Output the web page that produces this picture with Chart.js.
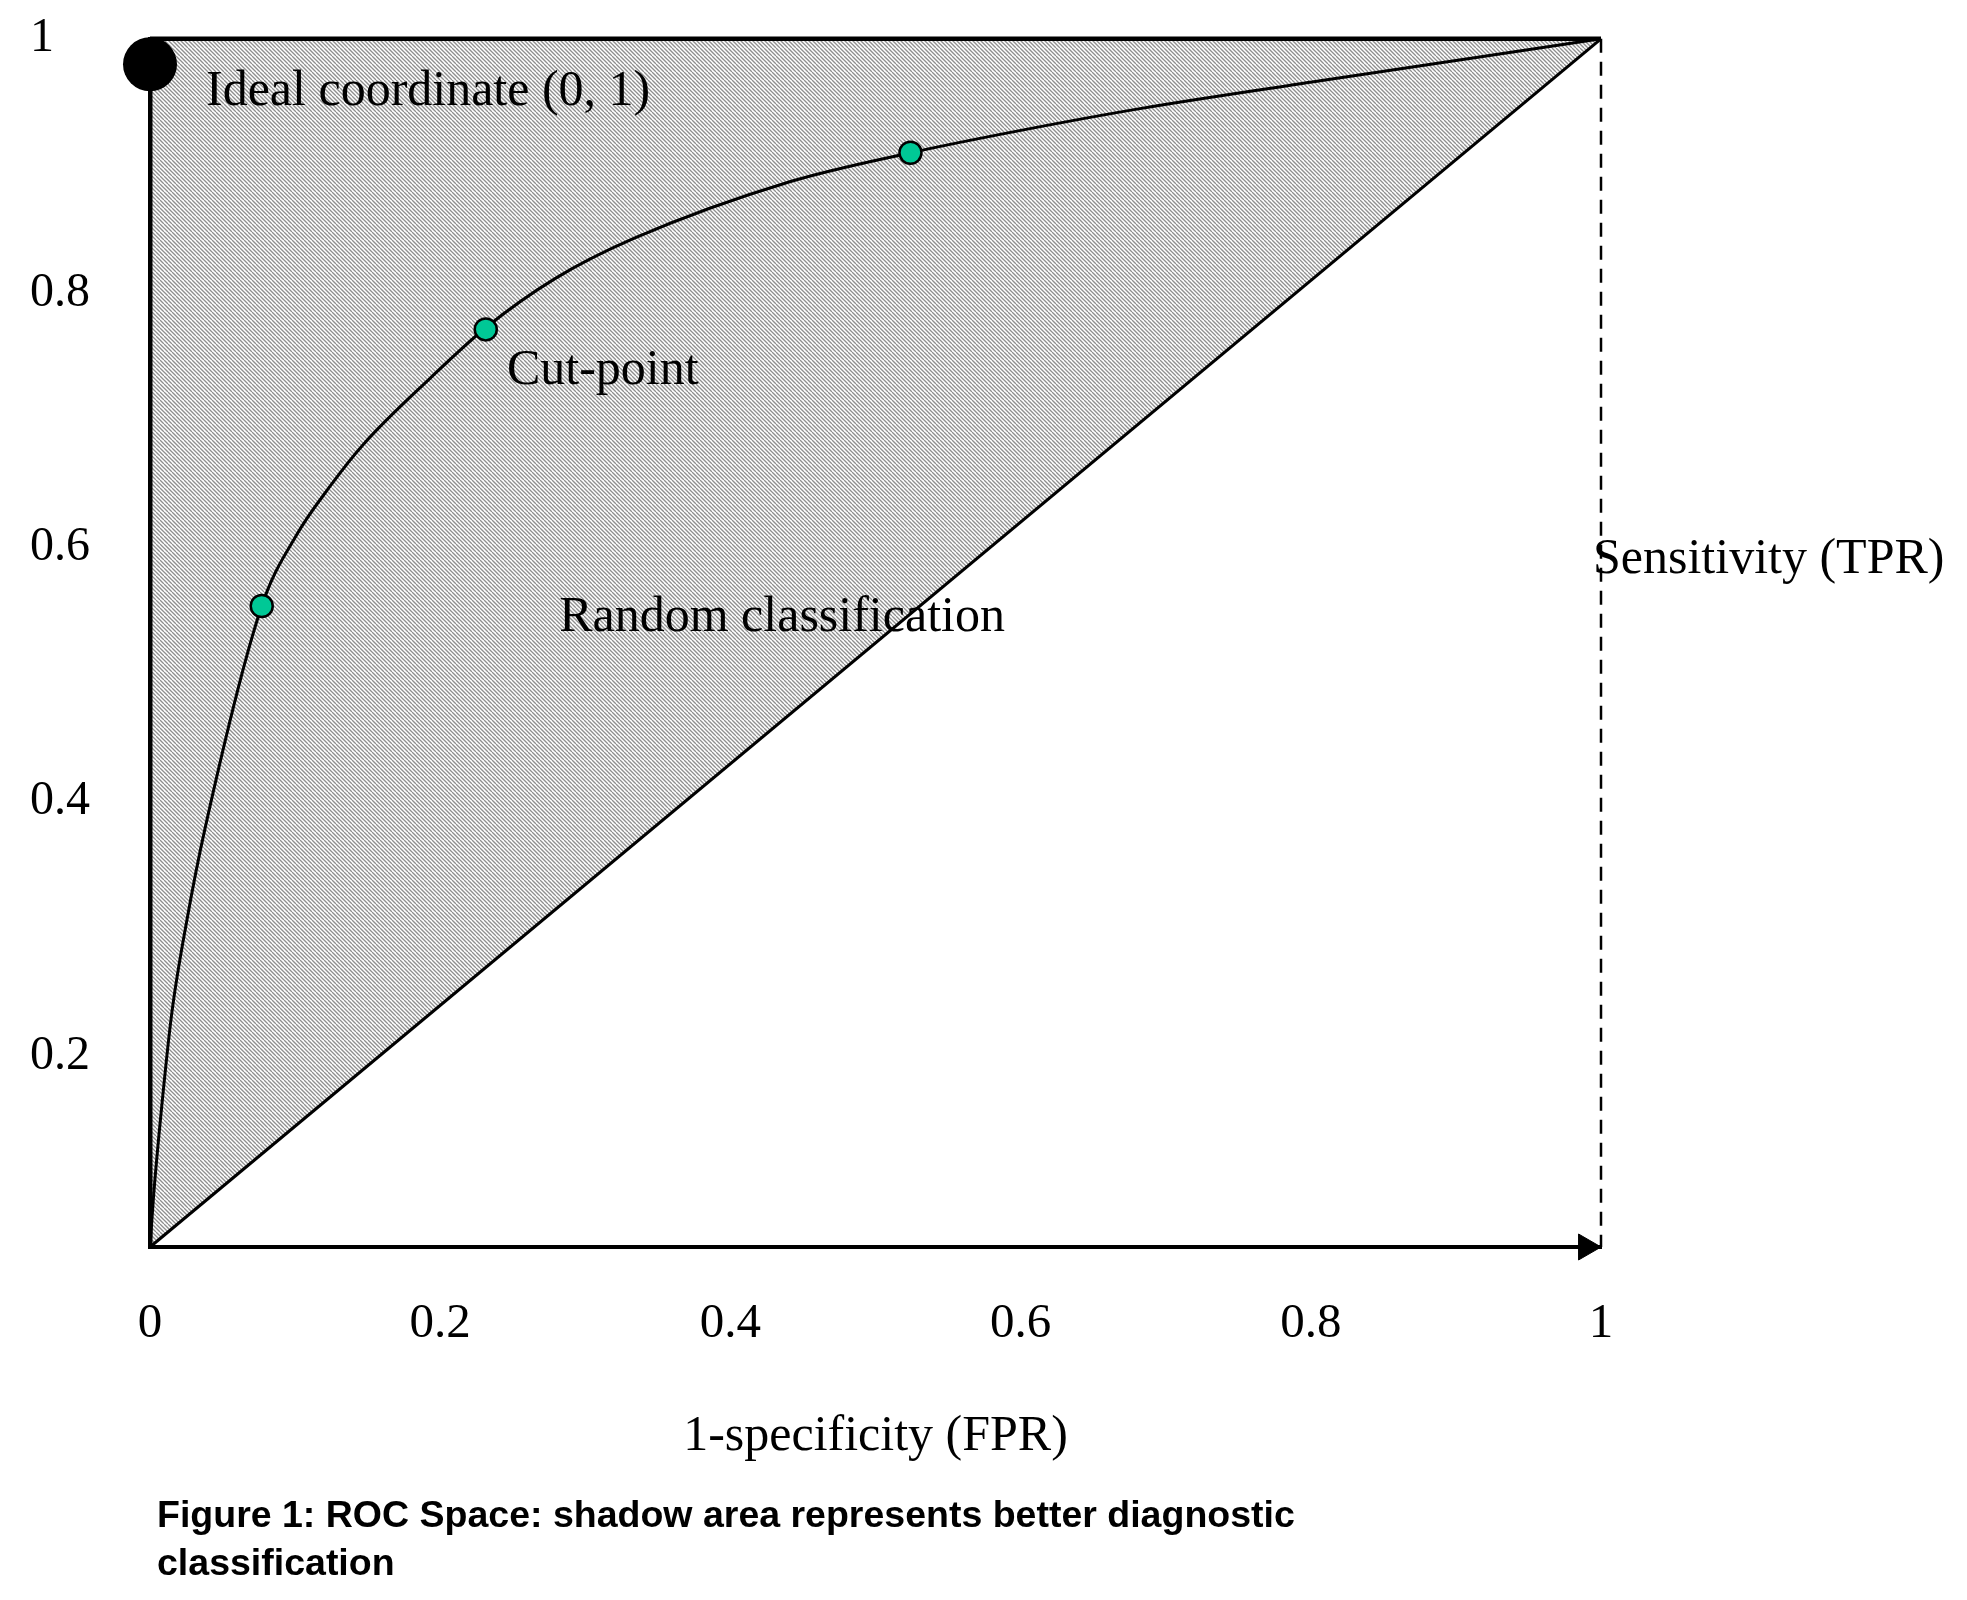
<!DOCTYPE html>
<html>
<head>
<meta charset="utf-8">
<script src="https://cdn.jsdelivr.net/npm/chart.js@4.4.1/dist/chart.umd.min.js"></script>
<style>
  html, body { margin: 0; padding: 0; background: #fff; }
  #wrap { position: relative; width: 1967px; height: 1600px; }
  #c { position: absolute; left: 0; top: 0; }
  #caption { position: absolute; left: 157px; top: 1490px; font-family: "Liberation Sans", Arial, sans-serif;
    font-weight: bold; font-size: 37.5px; line-height: 48px; color: #000; white-space: nowrap; }
</style>
</head>
<body>
<div id="wrap">
  <canvas id="c" width="1967" height="1600"></canvas>
  <div id="caption">Figure 1: ROC Space: shadow area represents better diagnostic<br>classification</div>
</div>
<script>
// ---- data ----
const xTicks = [0, 0.2, 0.4, 0.6, 0.8, 1];
const xTickLabels = ["0", "0.2", "0.4", "0.6", "0.8", "1"];
const yTicks = [0.2, 0.4, 0.6, 0.8, 1];
const yTickLabels = ["0.2", "0.4", "0.6", "0.8", "1"];
const xTitle = "1-specificity (FPR)";

// ROC curve traced through the picture
const rocX = [0, 0.0023, 0.0081, 0.015, 0.0253, 0.0379, 0.077, 0.1011, 0.124, 0.147, 0.193, 0.2316, 0.2797, 0.3334, 0.4409, 0.5241, 0.602, 0.6823, 0.8008, 1];
const rocY = [0.05, 0.0877, 0.1607, 0.2337, 0.3062, 0.379, 0.554, 0.610, 0.648, 0.681, 0.733, 0.773, 0.8118, 0.843, 0.8876, 0.9104, 0.9284, 0.9451, 0.966, 1];

// cut-points on the curve
const cutX = [0.077, 0.2314, 0.5241];
const cutY = [0.554, 0.7715, 0.9104];

// ideal coordinate marker
const idealX = [0];
const idealY = [0.98];

// random-classification diagonal
const diagX = [0, 1];
const diagY = [0.05, 1];

// shaded region (upper-left triangle)
const shadeX = [0, 0, 1];
const shadeY = [0.05, 1, 1];

// top frame line
const topX = [0, 1];
const topY = [1, 1];

// dashed line at FPR = 1
const dashX = [1, 1];
const dashY = [1, 0.05];

// arrowhead on the x axis
const arrowX = [0.9897];
const arrowY = [0.05];

// text annotations
const annoText = ["Ideal coordinate (0, 1)", "Cut-point", "Random classification", "Sensitivity (TPR)"];
const annoX = [0.0386, 0.246, 0.282, 0.9945];
const annoY = [0.958, 0.739, 0.5446, 0.59];

// ---- helpers ----
const pts = (xs, ys) => xs.map((x, i) => ({ x: x, y: ys[i] }));

function makeHatch() {
  const t = document.createElement('canvas');
  t.width = 8; t.height = 8;
  const g = t.getContext('2d');
  g.fillStyle = '#ffffff';
  g.fillRect(0, 0, 8, 8);
  g.strokeStyle = '#8f8f8f';
  g.lineWidth = 1.3;
  for (let c = -8; c <= 8; c += 4) {
    g.beginPath();
    g.moveTo(c, 0);
    g.lineTo(c + 8, 8);
    g.stroke();
  }
  return g.createPattern(t, 'repeat');
}

const SERIF = '"Liberation Serif", "Times New Roman", serif';

const annotations = {
  id: 'annotations',
  afterDatasetsDraw(chart) {
    const ctx = chart.ctx;
    const xs = chart.scales.x, ys = chart.scales.y;
    ctx.save();
    ctx.fillStyle = '#000';
    ctx.font = '50px ' + SERIF;
    ctx.textAlign = 'left';
    ctx.textBaseline = 'middle';
    annoText.forEach((t, i) => {
      ctx.fillText(t, xs.getPixelForValue(annoX[i]), ys.getPixelForValue(annoY[i]));
    });
    ctx.restore();
  }
};

const ctx = document.getElementById('c').getContext('2d');
new Chart(ctx, {
  type: 'scatter',
  data: {
    datasets: [
      { data: pts(idealX, idealY), pointRadius: 27, pointBackgroundColor: '#000', pointBorderColor: '#000',
        pointBorderWidth: 0, showLine: false, clip: false, order: 1 },
      { data: pts(cutX, cutY), pointRadius: 11, pointBackgroundColor: '#00c896', pointBorderColor: '#000',
        pointBorderWidth: 2.5, showLine: false, clip: false, order: 2 },
      { data: pts(arrowX, arrowY), pointStyle: 'triangle', rotation: 90, pointRadius: 15,
        pointBackgroundColor: '#000', pointBorderColor: '#000', pointBorderWidth: 1, showLine: false, clip: false, order: 3 },
      { data: pts(rocX, rocY), showLine: true, borderColor: '#000', borderWidth: 3, pointRadius: 0,
        cubicInterpolationMode: 'monotone', fill: false, clip: false, order: 4 },
      { data: pts(diagX, diagY), showLine: true, borderColor: '#000', borderWidth: 3, pointRadius: 0, fill: false, clip: false, order: 5 },
      { data: pts(topX, topY), showLine: true, borderColor: '#000', borderWidth: 4.5, pointRadius: 0, fill: false, clip: false, order: 6 },
      { data: pts(dashX, dashY), showLine: true, borderColor: '#000', borderWidth: 2.5, borderDash: [14, 9],
        pointRadius: 0, fill: false, clip: false, order: 7 },
      { data: pts(shadeX, shadeY), showLine: true, borderWidth: 0, borderColor: 'rgba(0,0,0,0)', pointRadius: 0,
        backgroundColor: makeHatch(), fill: 'shape', tension: 0, clip: false, order: 10 }
    ]
  },
  options: {
    responsive: false,
    animation: false,
    devicePixelRatio: 1,
    layout: { padding: { left: 30, top: 37, right: 366, bottom: 123 } },
    plugins: { legend: { display: false }, tooltip: { enabled: false }, title: { display: false } },
    scales: {
      x: {
        type: 'linear', min: 0, max: 1,
        afterBuildTicks: (s) => { s.ticks = xTicks.map(v => ({ value: v })); },
        afterFit: (s) => { s.height = 230; },
        grid: { display: false, drawTicks: false },
        border: { display: true, color: '#000', width: 4, z: 2 },
        ticks: { color: '#000', font: { family: SERIF, size: 49 }, padding: 48, maxRotation: 0,
          callback: (v) => { const i = xTicks.indexOf(v); return i >= 0 ? xTickLabels[i] : ''; } },
        title: { display: true, text: xTitle, color: '#000', font: { family: SERIF, size: 50 },
          padding: { top: 0, bottom: 10 } }
      },
      y: {
        type: 'linear', min: 0.05, max: 1,
        afterBuildTicks: (s) => { s.ticks = yTicks.map(v => ({ value: v })); },
        afterFit: (s) => { s.width = 120; },
        grid: { display: false, drawTicks: false },
        border: { display: true, color: '#000', width: 4.5, z: 2 },
        ticks: { color: '#000', font: { family: SERIF, size: 48 }, crossAlign: 'far', padding: 10,
          callback: (v) => { const i = yTicks.indexOf(v); return i >= 0 ? yTickLabels[i] : ''; } }
      }
    }
  },
  plugins: [annotations]
});
</script>
</body>
</html>
